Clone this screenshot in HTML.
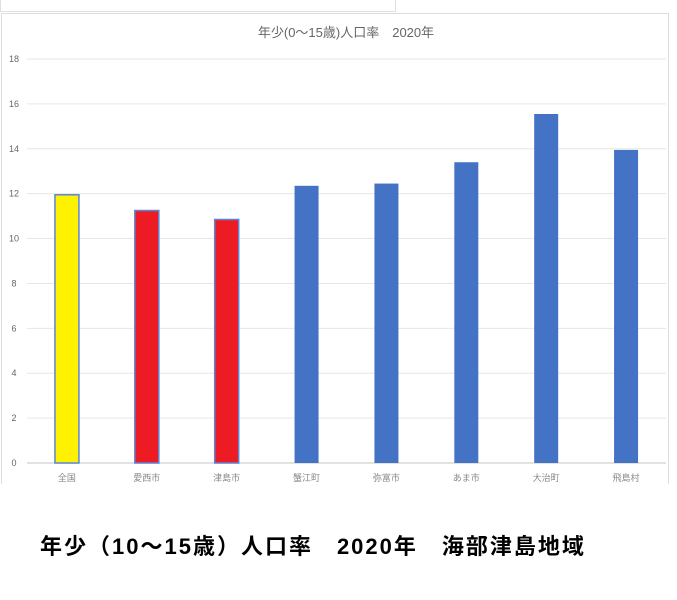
<!DOCTYPE html>
<html><head><meta charset="utf-8">
<style>
body{margin:0;width:677px;height:600px;background:#fff;overflow:hidden;font-family:"Liberation Sans","Noto Sans CJK JP",sans-serif;}
#strip{position:absolute;left:0;top:0;width:394px;height:11px;border:1px solid #e0e0e0;border-top:none;}
#box{position:absolute;left:1px;top:13px;width:666px;height:470px;border-left:1px solid #ddd;border-top:1px solid #ddd;border-right:1px solid #ddd;}
#caption{position:absolute;left:40px;top:529px;font-size:22px;letter-spacing:2px;font-weight:bold;color:#000;white-space:pre;font-family:"Liberation Sans","Noto Sans CJK JP",sans-serif;}
</style></head><body>
<div id="strip"></div>
<div id="box"></div>
<svg id="chart" width="677" height="600" style="position:absolute;left:0;top:0">
<text x="346" y="37" text-anchor="middle" font-size="13" fill="#666">年少(0～15歳)人口率　2020年</text>
</svg>
<div id="caption">年少（10～15歳）人口率　2020年　海部津島地域</div>
<script>
const categories=["全国","愛西市","津島市","蟹江町","弥富市","あま市","大治町","飛島村"];
const values=[11.95,11.25,10.85,12.35,12.45,13.4,15.55,13.95];
const colors=["#FFF200","#ED1C24","#ED1C24","#4472C4","#4472C4","#4472C4","#4472C4","#4472C4"];
const ticks=[0,2,4,6,8,10,12,14,16,18];
const svg=document.getElementById('chart');
const NS='http://www.w3.org/2000/svg';
const x0=27,x1=666,y0=463,yTop=59,yMax=18;
const y=v=>y0-(v/yMax)*(y0-yTop);
const step=(x1-x0)/categories.length;
const cx=i=>x0+step*(i+0.5);
function mk(t,a){const e=document.createElementNS(NS,t);for(const k in a)e.setAttribute(k,a[k]);svg.appendChild(e);return e;}
ticks.forEach(t=>{
  const l=mk('line',{x1:x0,x2:x1,y1:y(t),y2:y(t),stroke:t===0?'#d9d9d9':'#e6e6e6','stroke-width':t===0?1.5:1});
  
  
  const tx=mk('text',{x:14,y:y(t)+3,'text-anchor':'middle','font-size':9,fill:'#666'});
  tx.textContent=t;
  
  
});
categories.forEach((c,i)=>{
  const w=24;
  const outline=i<3;
  const r=mk('rect',{x:cx(i)-w/2,y:y(values[i]),width:w,height:y0-y(values[i]),fill:colors[i],stroke:outline?'#5B85D6':'none','stroke-width':outline?1.5:0});
  
  
  const tx=mk('text',{x:cx(i),y:481,'text-anchor':'middle','font-size':9,fill:'#888'});
  tx.textContent=c;
  
  
});
</script>
</body></html>
